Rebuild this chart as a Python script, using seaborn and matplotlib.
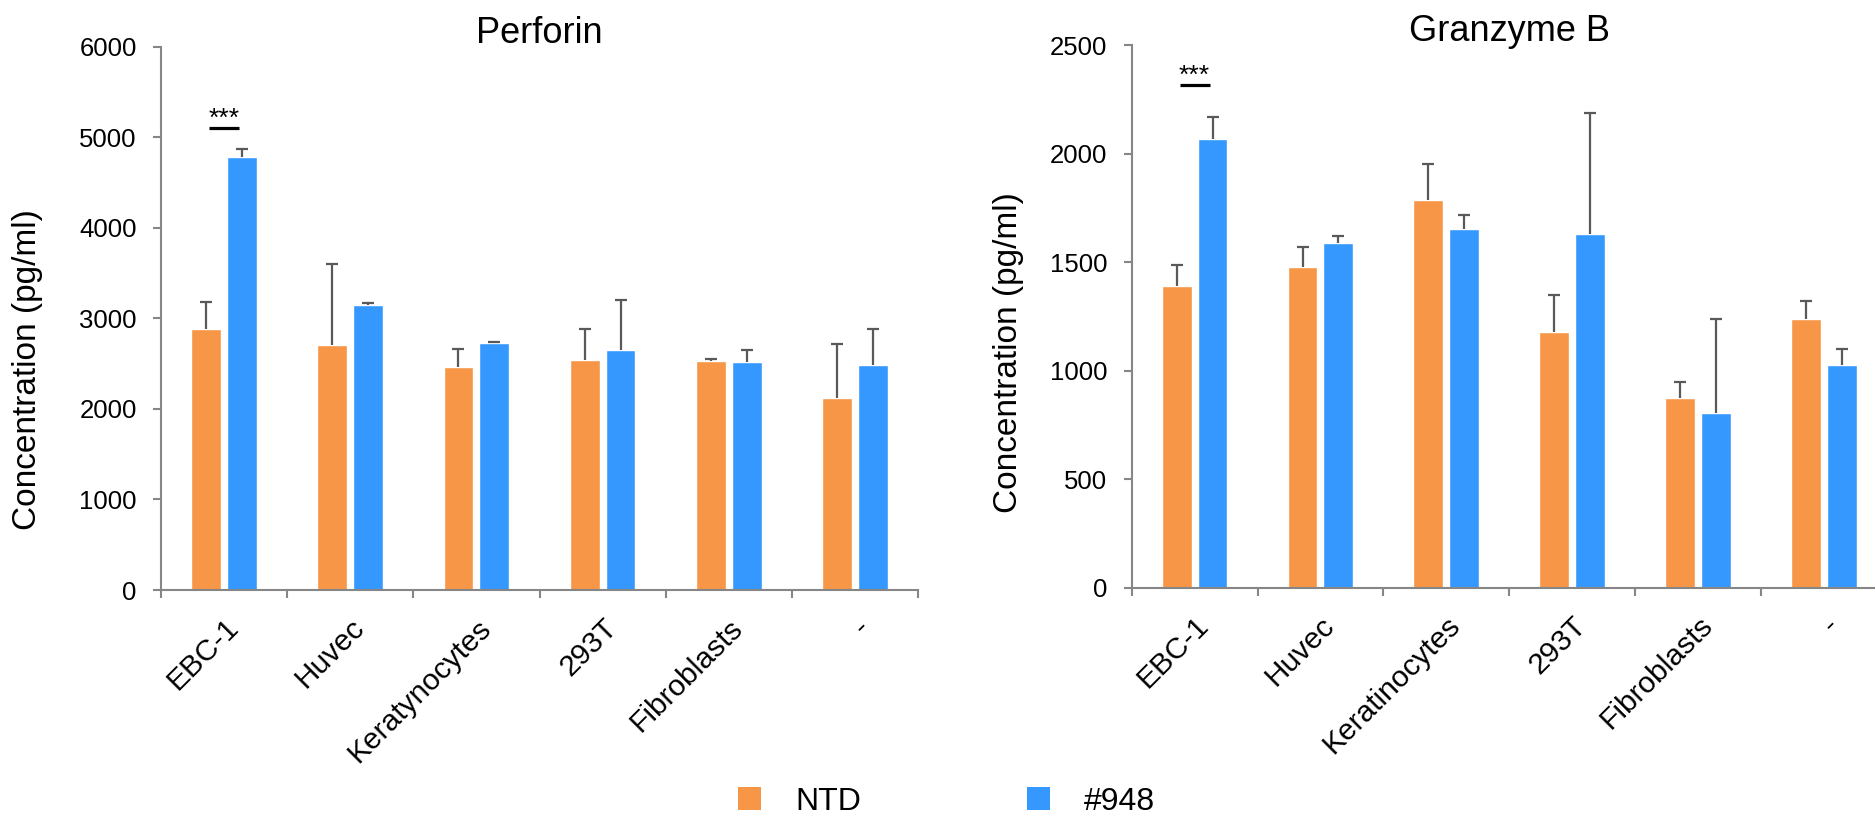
import numpy as np
import pandas as pd
import matplotlib
matplotlib.use("Agg")
import matplotlib.pyplot as plt
from matplotlib.patches import Patch
import seaborn as sns

# Series
groups = ["NTD", "#948"]

perforin_cells = ["EBC-1", "Huvec", "Keratynocytes", "293T", "Fibroblasts", "-"]
perforin_ntd = [2880, 2705, 2460, 2545, 2525, 2115]
perforin_948 = [4780, 3145, 2730, 2650, 2515, 2490]
perforin_ntd_err = [297, 896, 201, 338, 27, 597]
perforin_948_err = [91, 20, 12, 557, 137, 397]

granzyme_cells = ["EBC-1", "Huvec", "Keratinocytes", "293T", "Fibroblasts", "-"]
granzyme_ntd = [1389, 1475, 1784, 1178, 872, 1237]
granzyme_948 = [2069, 1589, 1653, 1628, 805, 1025]
granzyme_ntd_err = [99, 92, 166, 171, 76, 82]
granzyme_948_err = [100, 32, 62, 557, 433, 72]

perforin_sig = 5100
granzyme_sig = 2314

sns.set_style("ticks")
plt.rcParams["font.family"] = ["Liberation Sans", "DejaVu Sans"]
plt.rcParams["text.color"] = "black"
plt.rcParams["xtick.labelcolor"] = "black"
plt.rcParams["ytick.labelcolor"] = "black"

palette = {"NTD": "#F79646", "#948": "#3598FF"}
SPINE = "#868686"
ERR = "#595959"

fig = plt.figure(figsize=(18.75, 8.22), dpi=100)
ax1 = fig.add_axes([161 / 1875, 232 / 822, 757 / 1875, 543.3 / 822])
ax2 = fig.add_axes([1131.7 / 1875, 234.5 / 822, 755 / 1875, 542.5 / 822])


def panel(ax, cells, ntd, b948, ntd_err, b948_err, title, ymax, ystep, sig_y):
    df = pd.DataFrame({
        "cell": cells * 2,
        "group": [groups[0]] * len(cells) + [groups[1]] * len(cells),
        "value": list(ntd) + list(b948),
    })
    sns.barplot(data=df, x="cell", y="value", hue="group", order=cells,
                hue_order=groups, palette=palette, width=0.57, gap=0.17,
                errorbar=None, saturation=1, legend=False, ax=ax, zorder=2)

    # upper-only error bars on top of each bar
    for container, vals, errs in zip(ax.containers, (ntd, b948), (ntd_err, b948_err)):
        xs = [p.get_x() + p.get_width() / 2 for p in container.patches]
        eb = ax.errorbar(xs, vals, yerr=[np.zeros(len(errs)), errs], fmt="none",
                         ecolor=ERR, elinewidth=1.6, capsize=4, capthick=1.6,
                         zorder=3)
        eb.lines[1][0].set_visible(False)

    ax.set_xlim(-0.5, len(cells) - 0.5)
    ax.set_ylim(0, ymax)
    ax.set_yticks(np.arange(0, ymax + 1, ystep))
    ax.set_xlabel("")
    ax.set_ylabel("")
    ax.set_xticks(np.arange(-0.5, len(cells), 1), minor=True)
    ax.tick_params(axis="x", which="major", bottom=True, length=0, pad=17,
                   labelsize=21.5, labelcolor="black")
    ax.tick_params(axis="x", which="minor", bottom=True, length=5.8, width=1.5,
                   color=SPINE, direction="out")
    ax.tick_params(axis="y", left=True, length=5.5, width=1.5, color=SPINE,
                   direction="out", pad=12, labelsize=18.5, labelcolor="black")
    for lab in ax.get_xticklabels():
        lab.set(rotation=45, ha="right", va="top", rotation_mode="anchor")
    sns.despine(ax=ax)
    for s in ("left", "bottom"):
        ax.spines[s].set_color(SPINE)
        ax.spines[s].set_linewidth(1.5)

    # significance marker for EBC-1
    ax.plot([-0.12, 0.12], [sig_y, sig_y], color="black", lw=2.3,
            solid_capstyle="butt", zorder=4)
    ax.annotate("***", xy=(0, sig_y), xycoords="data", xytext=(0, 1.5),
                textcoords="offset points", ha="center", va="baseline",
                fontsize=19, color="black")

    ax.annotate(title, xy=(0.5, 1), xycoords="axes fraction", xytext=(0, 3),
                textcoords="offset points", ha="center", va="baseline",
                fontsize=26, color="black")


panel(ax1, perforin_cells, perforin_ntd, perforin_948, perforin_ntd_err,
      perforin_948_err, "Perforin", 6000, 1000, perforin_sig)
panel(ax2, granzyme_cells, granzyme_ntd, granzyme_948, granzyme_ntd_err,
      granzyme_948_err, "Granzyme B", 2500, 500, granzyme_sig)

fig.text(28 / 1875, 452 / 822, "Concentration (pg/ml)", rotation=90,
         ha="center", va="center", fontsize=24, color="black")
fig.text(1009 / 1875, 469 / 822, "Concentration (pg/ml)", rotation=90,
         ha="center", va="center", fontsize=24, color="black")

handles = [Patch(facecolor=palette[g], edgecolor="none") for g in groups]
fig.legend(handles, groups, loc="center", bbox_to_anchor=(0.5048, 0.0245),
           ncol=2, frameon=False, fontsize=23, handlelength=0.72,
           handleheight=0.72, handletextpad=1.07, columnspacing=5.2,
           borderpad=0, labelcolor="black")

fig.savefig("out.png", dpi=100)
